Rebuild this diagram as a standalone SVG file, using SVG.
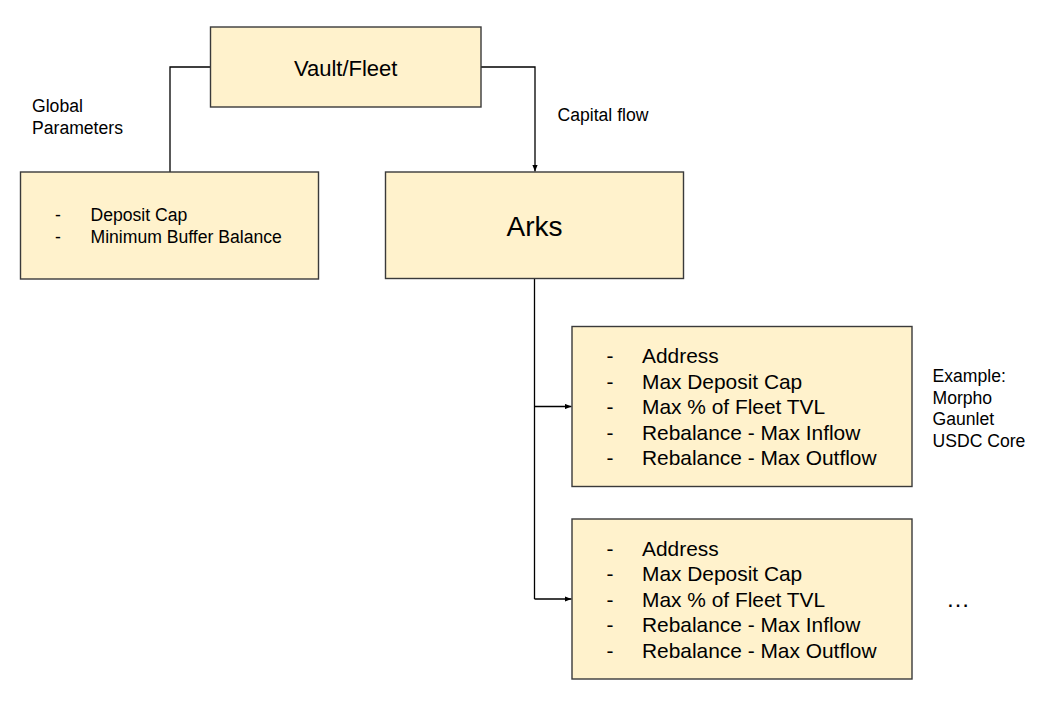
<svg xmlns="http://www.w3.org/2000/svg" width="1056" height="708" viewBox="0 0 1056 708">
<style>
.box{fill:#fff2cc;stroke:#3a3a3a;stroke-width:1.4}
.con{fill:none;stroke:#000;stroke-width:1.3}
text{font-family:"Liberation Sans",Arial,sans-serif;fill:#000}
.lbl{font-size:17.6px}
.list{font-size:20.9px}
</style>
<defs>
<marker id="arr" viewBox="0 0 10 8" refX="10" refY="4" markerWidth="7" markerHeight="5.6" markerUnits="userSpaceOnUse" orient="auto">
<path d="M0,0 L10,4 L0,8 Z" fill="#000"/>
</marker>
</defs>
<rect width="1056" height="708" fill="#fff"/>
<g id="connectors">
<path class="con" d="M210.5,67 H170 V172"/>
<path class="con" d="M481,67 H535 V171.5" marker-end="url(#arr)"/>
<path class="con" d="M534.5,278.5 V599"/>
<path class="con" d="M534.5,406.5 H571.5" marker-end="url(#arr)"/>
<path class="con" d="M534.5,599 H571.5" marker-end="url(#arr)"/>
</g>
<g id="label-global">
<text class="lbl" x="32" y="112">Global</text>
<text class="lbl" x="32" y="134">Parameters</text>
</g>
<g id="label-capital">
<text class="lbl" x="557.5" y="121">Capital flow</text>
</g>
<g id="vault">
<rect class="box" x="210.5" y="27" width="270.5" height="80"/>
<text x="345.7" y="75.5" font-size="22" text-anchor="middle">Vault/Fleet</text>
</g>
<g id="global-params">
<rect class="box" x="20.5" y="172" width="298" height="107"/>
<text class="lbl" x="55" y="221">-</text>
<text class="lbl" x="90.5" y="221">Deposit Cap</text>
<text class="lbl" x="55" y="242.5">-</text>
<text class="lbl" x="90.5" y="242.5">Minimum Buffer Balance</text>
</g>
<g id="arks">
<rect class="box" x="385.5" y="172" width="298" height="106.5"/>
<text x="534.5" y="235.5" font-size="28" text-anchor="middle">Arks</text>
</g>
<g id="ark1">
<rect class="box" x="572" y="326.5" width="340" height="160"/>
<text class="list" x="606.5" y="363">-</text><text class="list" x="642" y="363">Address</text>
<text class="list" x="606.5" y="388.5">-</text><text class="list" x="642" y="388.5">Max Deposit Cap</text>
<text class="list" x="606.5" y="414">-</text><text class="list" x="642" y="414">Max % of Fleet TVL</text>
<text class="list" x="606.5" y="439.5">-</text><text class="list" x="642" y="439.5">Rebalance - Max Inflow</text>
<text class="list" x="606.5" y="465">-</text><text class="list" x="642" y="465">Rebalance - Max Outflow</text>
</g>
<g id="ark2">
<rect class="box" x="572" y="519" width="340" height="160"/>
<text class="list" x="606.5" y="555.5">-</text><text class="list" x="642" y="555.5">Address</text>
<text class="list" x="606.5" y="581">-</text><text class="list" x="642" y="581">Max Deposit Cap</text>
<text class="list" x="606.5" y="606.5">-</text><text class="list" x="642" y="606.5">Max % of Fleet TVL</text>
<text class="list" x="606.5" y="632">-</text><text class="list" x="642" y="632">Rebalance - Max Inflow</text>
<text class="list" x="606.5" y="657.5">-</text><text class="list" x="642" y="657.5">Rebalance - Max Outflow</text>
</g>
<g id="label-example">
<text class="lbl" x="932.5" y="382">Example:</text>
<text class="lbl" x="932.5" y="403.5">Morpho</text>
<text class="lbl" x="932.5" y="425">Gaunlet</text>
<text class="lbl" x="932.5" y="446.5">USDC Core</text>
</g>
<g id="label-more">
<text x="946" y="607" font-size="24">…</text>
</g>
</svg>
